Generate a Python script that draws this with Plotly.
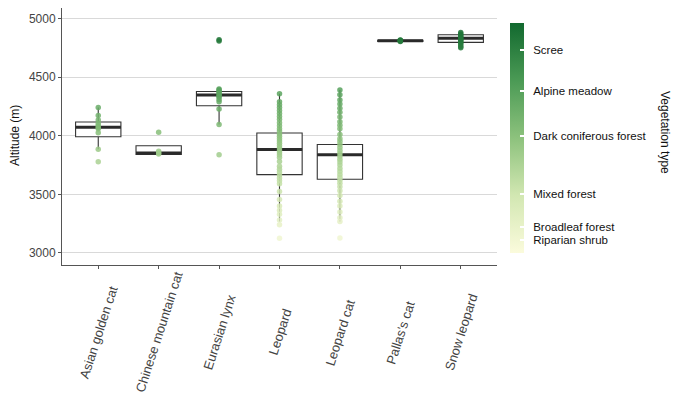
import plotly.graph_objects as go

SPECIES = ["Asian golden cat", "Chinese mountain cat", "Eurasian lynx", "Leopard",
           "Leopard cat", "Pallas's cat", "Snow leopard"]

# Box statistics (m)
BOX_Q1 = [3992, 3840, 4256, 3668, 3629, 4805, 4797]
BOX_MED = [4073, 3852, 4347, 3883, 3837, 4811, 4831]
BOX_Q3 = [4117, 3915, 4378, 4023, 3925, 4815, 4862]
BOX_LO = [3885, 3840, 4096, 3268, 3268, 4800, 4750]
BOX_HI = [4240, 3915, 4398, 4358, 4390, 4818, 4880]

# Recorded altitudes per species (m)
ALT_ASIAN_GOLDEN = [4240, 4172, 4135, 4104, 4085, 4070, 4060, 4025, 3885, 3778]
ALT_CHINESE_MOUNTAIN = [4030, 3868, 3852, 3845]
ALT_EURASIAN_LYNX = [4820, 4808, 4398, 4390, 4378, 4365, 4350, 4340, 4330, 4310, 4290, 4228, 4096, 3838]
ALT_LEOPARD = [4358, 4290, 4265, 4240, 4215, 4190, 4165, 4140, 4110, 4085, 4060, 4040, 4015,
               3995, 3975, 3955, 3935, 3915, 3895, 3875, 3855, 3835, 3815, 3780, 3740, 3715,
               3690, 3665, 3640, 3615, 3590, 3525, 3455, 3400, 3365, 3330, 3282, 3240, 3126]
ALT_LEOPARD_CAT = [4390, 4350, 4305, 4270, 4235, 4200, 4160, 4120, 4090, 4060, 4010, 3975,
                   3950, 3925, 3900, 3875, 3850, 3825, 3800, 3775, 3750, 3720, 3695, 3670,
                   3645, 3620, 3595, 3565, 3530, 3490, 3440, 3400, 3350, 3300, 3268, 3128]
ALT_PALLAS = [4818, 4814, 4811, 4808, 4804]
ALT_SNOW_LEOPARD = [4880, 4868, 4855, 4845, 4835, 4828, 4820, 4810, 4800, 4790, 4775, 4760, 4750]

ALTITUDES = [ALT_ASIAN_GOLDEN, ALT_CHINESE_MOUNTAIN, ALT_EURASIAN_LYNX, ALT_LEOPARD,
             ALT_LEOPARD_CAT, ALT_PALLAS, ALT_SNOW_LEOPARD]

# Vegetation-type colour bar breaks
VEG_LABELS = ["Riparian shrub", "Broadleaf forest", "Mixed forest",
              "Dark coniferous forest", "Alpine meadow", "Scree"]
VEG_VALUES = [3111, 3223, 3502, 3997, 4380, 4730]
VEG_MIN, VEG_MAX = 3000, 4964

Y_TICKS = [3000, 3500, 4000, 4500, 5000]

FONT = "Liberation Sans, Arial, sans-serif"
BOX_W = 0.75

# The page body has an 8px margin, so work in page pixels and subtract it.
OFF = 8
W, H = 700 - OFF, 399 - OFF
L, R, T, B = 62 - OFF, 497 - OFF, 8 - OFF, 265 - OFF
PW, PH = R - L, B - T


def px_to_paper_x(x):
    return (x - OFF - L) / PW


def px_to_paper_y(y):
    return (B - (y - OFF)) / PH


xs = list(range(len(SPECIES)))

fig = go.Figure()

fig.add_trace(go.Box(
    x=xs, q1=BOX_Q1, median=BOX_MED, q3=BOX_Q3,
    lowerfence=BOX_LO, upperfence=BOX_HI,
    width=BOX_W, whiskerwidth=0,
    fillcolor="white", line=dict(color="#333333", width=1.1),
    boxpoints=False, showlegend=False, hoverinfo="skip",
))

# thick median lines
mx, my = [], []
for i, m in zip(xs, BOX_MED):
    mx += [i - BOX_W / 2, i + BOX_W / 2, None]
    my += [m, m, None]
fig.add_trace(go.Scatter(x=mx, y=my, mode="lines",
                         line=dict(color="#2a2a2a", width=3),
                         showlegend=False, hoverinfo="skip"))

px_, py_ = [], []
for i, vals in zip(xs, ALTITUDES):
    px_ += [i] * len(vals)
    py_ += vals

colorscale = [[0.0, "#fbfbdc"], [0.25, "#d2e7b2"], [0.5, "#8dc27d"],
              [0.75, "#4b9a55"], [1.0, "#12692f"]]

fig.add_trace(go.Scatter(
    x=px_, y=py_, mode="markers", showlegend=False,
    marker=dict(size=5.5, color=py_, colorscale=colorscale, cmin=VEG_MIN, cmax=VEG_MAX,
                opacity=0.85, line=dict(width=0),
                showscale=True,
                colorbar=dict(
                    x=px_to_paper_x(510), xanchor="left", xpad=0, ypad=0,
                    y=px_to_paper_y(138), yanchor="middle",
                    len=230, lenmode="pixels", thickness=14, outlinewidth=0,
                    tickvals=VEG_VALUES,
                    ticktext=["\u00a0\u00a0" + s for s in VEG_LABELS],
                    ticks="inside", ticklen=4, tickcolor="white", tickwidth=1.5,
                    tickfont=dict(family=FONT, size=11.5, color="#111111"),
                    title=dict(text=""),
                )),
))

fig.add_annotation(text="Vegetation type",
                   x=px_to_paper_x(665), y=px_to_paper_y(132),
                   xref="paper", yref="paper", xanchor="center", yanchor="middle",
                   showarrow=False, textangle=90,
                   font=dict(family=FONT, size=12, color="#111111"))
fig.add_annotation(text="Altitude (m)",
                   x=px_to_paper_x(15), y=px_to_paper_y(136),
                   xref="paper", yref="paper", xanchor="center", yanchor="middle",
                   showarrow=False, textangle=-90,
                   font=dict(family=FONT, size=12, color="#111111"))

# category labels, centred under each tick and rotated
for i, name in zip(xs, SPECIES):
    fig.add_annotation(text=name, x=i, xref="x", y=px_to_paper_y(332), yref="paper",
                       showarrow=False, textangle=-72, xanchor="center", yanchor="middle",
                       font=dict(family=FONT, size=13, color="#444444"))

fig.update_layout(
    width=W, height=H,
    margin=dict(l=L, r=W - R, t=T, b=H - B, autoexpand=False),
    plot_bgcolor="white", paper_bgcolor="white",
    font=dict(family=FONT, size=12, color="#444444"),
)

fig.update_xaxes(
    range=[-0.6, 6.6], tickvals=xs, showticklabels=False,
    showgrid=False, zeroline=False, automargin=False,
    showline=True, linecolor="#555555", linewidth=1,
    ticks="outside", ticklen=3, tickcolor="#555555",
)
fig.update_yaxes(
    range=[2897, 5090], tickvals=Y_TICKS, automargin=False,
    showgrid=True, gridcolor="#d9d9d9", gridwidth=1, zeroline=False,
    showline=True, linecolor="#555555", linewidth=1,
    ticks="outside", ticklen=3, tickcolor="#555555",
    tickfont=dict(family=FONT, size=12, color="#444444"),
)

fig.write_html("out.html")
